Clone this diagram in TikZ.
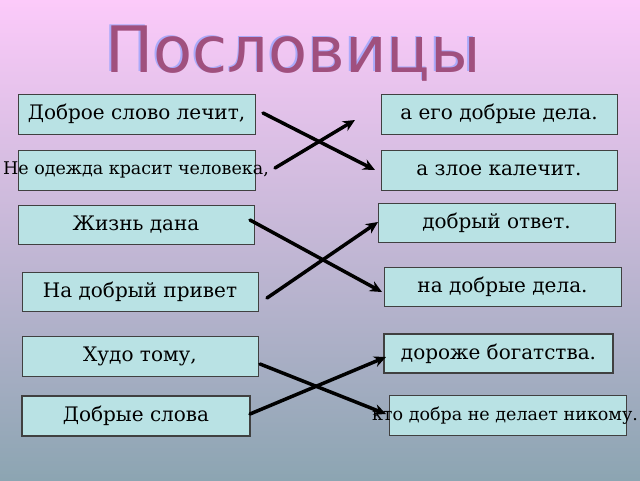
\documentclass[tikz,border=0pt]{standalone}
\usetikzlibrary{arrows.meta}
\usepackage{fontspec}
\setmainfont{DejaVu Serif}
\newfontfamily\titlefont{DejaVu Sans}
\begin{document}
\begin{tikzpicture}[x=1pt,y=-1pt,
  box/.style={draw=black!75,line width=0.8pt,fill=boxc,minimum height=40pt,inner sep=0pt,font=\fontsize{20}{22}\selectfont},
  thick box/.style={box,line width=1.6pt},
  small/.style={font=\fontsize{17.5}{19}\selectfont},
  ttl/.style={font=\titlefont\fontsize{64}{64}\selectfont},
  arr/.style={line width=3.5pt,-{Stealth[length=12pt,width=11pt]},line cap=round}]
\definecolor{boxc}{HTML}{B9E2E4}
\definecolor{titc}{HTML}{A0507E}
\shade[top color={rgb,255:red,252;green,202;blue,250},bottom color={rgb,255:red,140;green,165;blue,178}] (0,0) rectangle (640,480);
\useasboundingbox (0,0) rectangle (640,480);
\node[ttl,text={rgb,255:red,170;green,170;blue,250}] (tshadow) at (291.5,52.5) {Пословицы};
\node[ttl,text=titc] (t) at (293,54) {Пословицы};
% left
\node[box,minimum width=237pt] (l1) at (136.5,114) {Доброе слово лечит,};
\node[box,minimum width=237pt] (l2) at (136.5,170) {};
\node[small] (l2t) at (136,170) {Не одежда красит человека,};
\node[box,minimum width=236pt,minimum height=39pt] (l3) at (136,224.5) {Жизнь дана};
\node[box,minimum width=236pt,minimum height=39pt] (l4) at (140,291.5) {На добрый привет};
\node[box,minimum width=236pt] (l5) at (140,356) {Худо тому,};
\node[thick box,minimum width=228pt] (l6) at (136,416) {Добрые слова};
% right
\node[box,minimum width=236pt] (r1) at (499,114) {а его добрые дела.};
\node[box,minimum width=236pt] (r2) at (499,170) {а злое калечит.};
\node[box,minimum width=237pt,minimum height=39pt] (r3) at (496.5,222.5) {добрый ответ.};
\node[box,minimum width=237pt,minimum height=39pt] (r4) at (502.5,286.5) {на добрые дела.};
\node[thick box,minimum width=229pt,minimum height=39pt] (r5) at (498.5,353.5) {дороже богатства.};
\node[box,minimum width=237pt] (r6) at (507.5,415) {};
\node[small] (r6t) at (505,416) {кто добра не делает никому.};
% arrows
\coordinate (a1s) at (263,113); \coordinate (a1e) at (375,170);
\coordinate (a2s) at (275,168); \coordinate (a2e) at (355,120);
\coordinate (a3s) at (250,220); \coordinate (a3e) at (382,292);
\coordinate (a4s) at (267,298); \coordinate (a4e) at (378,222);
\coordinate (a5s) at (260,364); \coordinate (a5e) at (386,414);
\coordinate (a6s) at (250,414); \coordinate (a6e) at (386,357);
\draw[arr] (a1s) -- (a1e);
\draw[arr] (a2s) -- (a2e);
\draw[arr] (a3s) -- (a3e);
\draw[arr] (a4s) -- (a4e);
\draw[arr] (a5s) -- (a5e);
\draw[arr] (a6s) -- (a6e);
\end{tikzpicture}
\end{document}
